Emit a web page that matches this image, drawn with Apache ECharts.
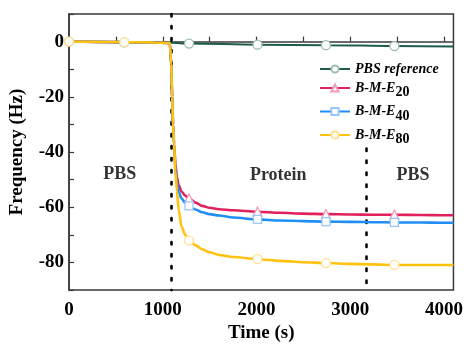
<!DOCTYPE html>
<html><head><meta charset="utf-8">
<script src="https://cdn.jsdelivr.net/npm/echarts@6/dist/echarts.min.js"></script>
<style>html,body{margin:0;padding:0;background:#fff}#c{width:466px;height:348px}</style>
</head><body><div id="c"></div>
<script>
// ---- data ----
const seriesNames = ['PBS reference', 'B-M-E20', 'B-M-E40', 'B-M-E80'];
const markerTimesRef = [0, 590, 1280, 2010, 2740, 3470];
const markerTimesE = [[0, 590, 1280, 2010, 2740, 3470], [1280, 2010, 2740, 3470], [1280, 2010, 2740, 3470], [0, 590, 1280, 2010, 2740, 3470]];
const refTimes = [0, 590, 1090, 1280, 2010, 2740, 3470, 4100];
const refValues = [0, -0.3, -0.4, -0.7, -1.1, -1.3, -1.6, -1.8];
const times = [0, 300, 590, 900, 1075, 1090, 1100, 1110, 1120, 1135, 1150, 1170, 1200, 1240, 1280, 1350, 1420, 1500, 1600, 1750, 2010, 2250, 2500, 2740, 3000, 3250, 3470, 3750, 4000, 4100];
const e20 = [0, -0.1, -0.2, -0.3, -0.5, -8, -20, -30, -37, -44, -49, -52, -54.3, -55.8, -56.8, -58.3, -59.5, -60.2, -60.7, -61.1, -61.6, -62.0, -62.3, -62.5, -62.6, -62.7, -62.7, -62.8, -62.9, -62.9];
const e40 = [0, -0.1, -0.2, -0.3, -0.5, -8, -20, -30, -37, -46, -51, -54.5, -56.8, -58.4, -59.5, -60.8, -61.8, -62.5, -63.0, -63.7, -64.4, -64.8, -65.0, -65.2, -65.3, -65.4, -65.5, -65.5, -65.6, -65.6];
const e80 = [0, -0.1, -0.2, -0.3, -0.5, -8, -20, -30, -37, -47, -54, -61, -67, -70, -72, -73.8, -75.2, -76.3, -77.3, -78.0, -78.8, -79.4, -79.9, -80.2, -80.5, -80.7, -80.9, -80.9, -80.9, -80.9];
const xTickLabels = [0, 1000, 2000, 3000, 4000];
const yTickLabels = [0, -20, -40, -60, -80];
const dividerTimes = [1090, 3165];
const annotations = [['PBS', 542, -48], ['Protein', 2232, -48.3], ['PBS', 3668, -48.3]];

// ---- style ----
const colors = ['#1d5b4c', '#e2215c', '#1f8ef5', '#ffc20e'];
const markerBorders = ['#9dbdb4', '#f39ab6', '#98c8fb', '#ffe08c'];
const symbols = ['circle', 'triangle', 'rect', 'circle'];
const serif = '"Liberation Serif", "Times New Roman", serif';

function build(t, v, marks) {
  return t.map((x, i) => {
    const item = { value: [x, v[i]] };
    if (marks.indexOf(x) < 0) item.symbol = 'none';
    return item;
  });
}
const dataSets = [build(refTimes, refValues, markerTimesE[0]), build(times, e20, markerTimesE[1]), build(times, e40, markerTimesE[2]), build(times, e80, markerTimesE[3])];

const series = seriesNames.map((n, i) => ({
  name: n, type: 'line', data: dataSets[i],
  symbol: symbols[i], symbolSize: i === 2 ? 8 : 9, showAllSymbol: true,
  smooth: 0.3, smoothMonotone: 'x',
  color: colors[i],
  lineStyle: { color: colors[i], width: i === 0 ? 2 : 2.6 },
  itemStyle: { color: '#ffffff', borderColor: markerBorders[i], borderWidth: 1.3 },
  emphasis: { disabled: true }, z: 3 + i
}));

series.push({
  type: 'line', data: [], silent: true,
  markLine: {
    silent: true, symbol: 'none', label: { show: false },
    lineStyle: { color: '#000', type: [2.5, 9.5], width: 2.6, cap: 'round' },
    data: [
      [{ coord: [dividerTimes[0], 10] }, { coord: [dividerTimes[0], -90] }],
      [{ coord: [dividerTimes[1], -38.7] }, { coord: [dividerTimes[1], -90] }]
    ]
  }
});
series.push({
  type: 'scatter', silent: true, symbolSize: 0,
  data: annotations.map(a => ({ name: a[0], value: [a[1], a[2]] })),
  label: { show: true, position: 'inside', formatter: p => p.name, color: '#000', fontFamily: serif, fontWeight: 'bold', fontSize: 18 }
});

const chart = echarts.init(document.getElementById('c'));
chart.setOption({
  backgroundColor: '#fff',
  animation: false,
  grid: { left: 66, right: 10, top: 14, bottom: 45, show: true, borderColor: '#3a3a3a', borderWidth: 1.5 },
  legend: {
    data: seriesNames, left: 319, top: 62, padding: 0, orient: 'vertical', itemWidth: 30, itemHeight: 9, itemGap: 5,
    textStyle: { fontFamily: serif, fontWeight: 'bold', fontStyle: 'italic', fontSize: 14, color: '#000',
      rich: {
        it: { fontFamily: serif, fontWeight: 'bold', fontStyle: 'italic', fontSize: 14, color: '#000' },
        sub: { fontFamily: serif, fontWeight: 'bold', fontStyle: 'normal', fontSize: 14, color: '#000', padding: [9, 0, 0, 0] }
      } },
    formatter: n => { const m = n.match(/^(.*?)(\d+)$/); return m ? '{it|' + m[1] + '}{sub|' + m[2] + '}' : '{it|' + n + '}'; }
  },
  xAxis: {
    type: 'value', min: 0, max: 4100, interval: 500,
    name: 'Time (s)', nameLocation: 'middle', nameGap: 33,
    nameTextStyle: { fontFamily: serif, fontWeight: 'bold', fontSize: 19, color: '#000' },
    axisLine: { show: true, lineStyle: { color: '#3a3a3a', width: 1.5 } },
    axisTick: { show: true, inside: true, length: 5, lineStyle: { color: '#3a3a3a', width: 1.2 } },
    splitLine: { show: false },
    axisLabel: { fontFamily: serif, fontWeight: 'bold', fontSize: 19, color: '#000', margin: 10, showMaxLabel: false,
      formatter: v => xTickLabels.indexOf(v) >= 0 ? String(v) : '' }
  },
  yAxis: {
    type: 'value', min: -90, max: 10, interval: 10,
    name: 'Frequency (Hz)', nameLocation: 'middle', nameGap: 42, nameRotate: 90,
    nameTextStyle: { fontFamily: serif, fontWeight: 'bold', fontSize: 19, color: '#000' },
    axisLine: { show: true, lineStyle: { color: '#3a3a3a', width: 1.5 } },
    axisTick: { show: true, inside: true, length: 5, lineStyle: { color: '#3a3a3a', width: 1.2 } },
    splitLine: { show: false },
    axisLabel: { fontFamily: serif, fontWeight: 'bold', fontSize: 19, color: '#000', margin: 5,
      formatter: v => yTickLabels.indexOf(v) >= 0 ? String(v) : '' }
  },
  series: series
});
</script></body></html>
